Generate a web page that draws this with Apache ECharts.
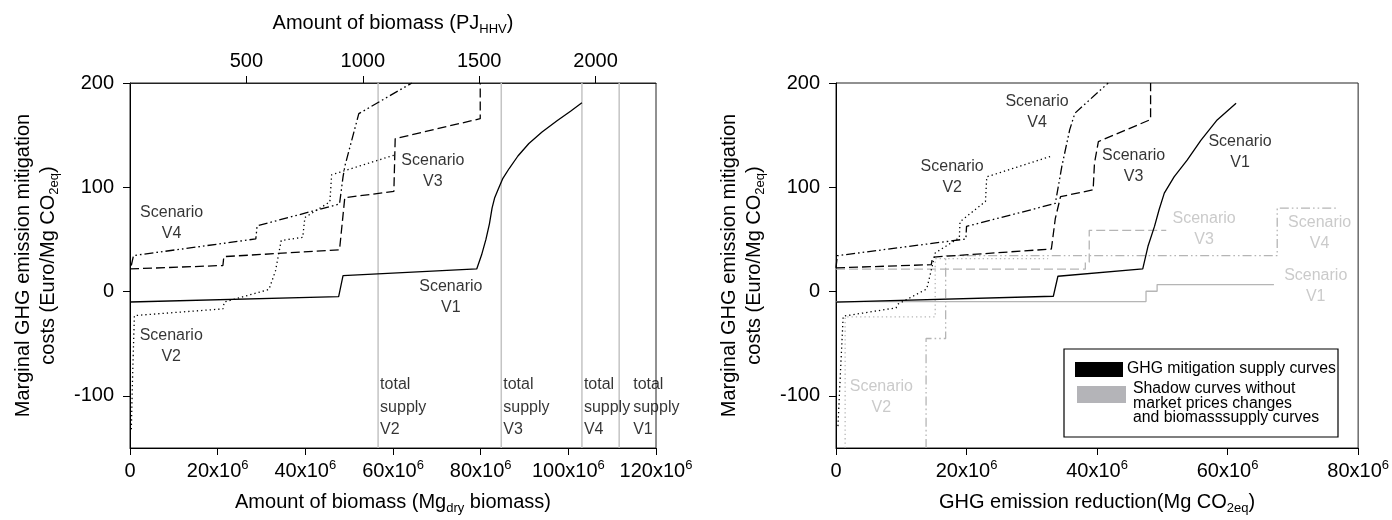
<!DOCTYPE html>
<html>
<head>
<meta charset="utf-8">
<script src="https://cdn.jsdelivr.net/npm/echarts@6/dist/echarts.min.js"></script>
<style>
html,body{margin:0;padding:0;background:#fff;}
#chart{width:1392px;height:520px;}
</style>
</head>
<body>
<div id="chart"></div>
<script>
// ---------------- DATA (x in 10^6 units, y in Euro/Mg CO2eq) ----------------
// Left panel: amount of biomass (10^6 Mg dry) vs marginal cost
const leftV1 = [[0,-10],[47.6,-4.8],[48.6,15.3],[79.1,21.7],[80.2,35],[81.2,50],[82,65],[82.6,80],[83.2,90],[84,98],[85,108],[86.5,118],[88.5,130],[91,142],[94,153],[97.5,164],[100.5,173],[103.1,181]];
const leftV2 = [[0.3,-132],[0.6,-80],[1,-23],[21.2,-16.6],[21.5,-10],[31.7,2],[33.2,20],[34.5,49],[39.4,52],[39.9,71],[45.6,86],[46,112],[60.4,131]];
const leftV3 = [[0,21.7],[21.2,25],[21.4,33.5],[47.8,40],[49,90],[60.2,96],[60.5,146.6],[79.9,165.8],[79.9,200]];
const leftV4 = [[0.3,25],[0.8,34.5],[28.7,50.5],[29,63],[47.8,84],[48.6,110],[49,120],[52.2,170.6],[64.3,200]];
const supplyTotals = [56.6, 84.7, 103.1, 111.6];
const supplyNames = ['V2', 'V3', 'V4', 'V1'];
const hhvGJperMg = 18.83;             // top axis: PJ(HHV) = Mg * 18.83 GJ/Mg
const pjTicks = [500, 1000, 1500, 2000];
const yTicks = [-100, 0, 100, 200];

// Right panel: GHG emission reduction (10^6 Mg CO2eq) vs marginal cost
const rightV1 = [[0,-10.2],[33.3,-4.5],[34.0,14.7],[47,21.7],[47.8,43.4],[48.8,62.5],[49.5,78.5],[50.3,94.4],[51.8,110],[53.8,126],[55.9,145],[58.4,164.6],[61.3,180.6]];
const rightV2 = [[0.3,-129],[0.7,-75],[1.1,-23.6],[9.2,-15.6],[9.5,-12],[13.9,2.5],[14.5,18],[15.2,37],[18.9,51.7],[19.0,67],[22.9,86.4],[23.1,110],[32.8,129.5]];
const rightV3 = [[0,22.7],[14.6,25.8],[14.8,33],[33.0,40.8],[33.6,70],[34.4,91],[39.4,97.6],[39.6,123],[40.2,143.8],[48.2,165],[48.2,200]];
const rightV4 = [[0,22.7],[0.2,34.4],[19.9,50.4],[20.0,62.5],[33.6,84.5],[34.6,120],[35.8,155],[36.6,171],[41.7,200]];
// Shadow curves (without market price changes and biomass supply curves)
const shadowV1 = [[0,-9.6],[47.5,-9.6],[47.5,0.3],[49.2,0.3],[49.2,6.7],[67.1,6.7]];
const shadowV2 = [[1.4,-150],[1.4,-24.2],[15.2,-24.2],[15.2,31.5],[32.5,31.5]];
const shadowV3 = [[0,21.5],[38.2,21.5],[38.2,28],[38.8,28],[38.8,58.7],[50.6,58.7]];
const shadowV4 = [[13.8,-150],[13.8,-45],[16.8,-45],[16.8,34.4],[67.6,34.4],[67.6,80],[76.8,80]];

// ---------------- STYLE ----------------
const FF = "'Liberation Sans', Arial, Helvetica, sans-serif";
const BLACK = '#000';
const GRAY = '#b5b5b5';
const GRAYTXT = '#bdbdbd';
const dash = {
  V1: 'solid',
  V2: [1.3, 3],
  V3: [9, 4],
  V4: [9, 3, 1.6, 3, 1.6, 3]
};

const chart = echarts.init(document.getElementById('chart'), null, {renderer: 'canvas'});

function curve(data, name, color, xi, yi, w) {
  return {
    type: 'line', data: data, xAxisIndex: xi, yAxisIndex: yi,
    symbol: 'none', silent: true, animation: false, z: 3,
    lineStyle: {color: color, width: w || 1.3, type: dash[name]}
  };
}
function note(xi, yi, pos, text, color) {
  return {
    type: 'scatter', xAxisIndex: xi, yAxisIndex: yi, data: [pos],
    symbolSize: 0, silent: true, animation: false, z: 5,
    label: {show: true, position: 'inside', formatter: text, color: color,
      fontFamily: FF, fontSize: 16, lineHeight: 21, align: 'center'}
  };
}

const richBase = {
  b: {fontFamily: FF, fontSize: 20, lineHeight: 25, color: '#000'},
  s: {fontFamily: FF, fontSize: 13, lineHeight: 14, verticalAlign: 'top', color: '#000'},
  d: {fontFamily: FF, fontSize: 13, lineHeight: 14, verticalAlign: 'bottom', color: '#000'}
};
const expFmt = v => v === 0 ? '{b|0}' : '{b|' + v + 'x10}{s|6}';

function xBottom(grid, max, name) {
  return {
    gridIndex: grid, type: 'value', position: 'bottom', min: 0, max: max, interval: 20,
    axisLine: {show: true, onZero: false, lineStyle: {color: '#000', width: 1}},
    axisTick: {show: true, inside: false, length: 7, lineStyle: {color: '#000'}},
    axisLabel: {formatter: expFmt, rich: richBase, margin: 11, hideOverlap: false},
    splitLine: {show: false},
    name: name, nameLocation: 'middle', nameGap: 42,
    nameTextStyle: {rich: richBase}
  };
}
function yAxisDef(grid) {
  return {
    gridIndex: grid, type: 'value', min: -150, max: 200,
    axisLine: {show: true, onZero: false, lineStyle: {color: '#000', width: 1}},
    axisTick: {show: true, inside: false, length: 7, customValues: yTicks, lineStyle: {color: '#000'}},
    axisLabel: {customValues: yTicks, fontFamily: FF, fontSize: 20, color: '#000', margin: 16},
    splitLine: {show: false},
    name: '{b|Marginal GHG emission mitigation}\n{b|costs (Euro/Mg CO}{d|2eq}{b|)}',
    nameLocation: 'middle', nameGap: 69, nameRotate: 90,
    nameTextStyle: {rich: richBase, align: 'center'}
  };
}

const series = [];
// total supply vertical lines (left)
supplyTotals.forEach((v) => {
  series.push({type: 'line', xAxisIndex: 0, yAxisIndex: 0, data: [[v, -150], [v, 200]],
    symbol: 'none', silent: true, animation: false, z: 2,
    lineStyle: {color: '#c4c4c4', width: 1.5}});
});
series.push(curve(leftV1, 'V1', BLACK, 0, 0));
series.push(curve(leftV2, 'V2', BLACK, 0, 0));
series.push(curve(leftV3, 'V3', BLACK, 0, 0));
series.push(curve(leftV4, 'V4', BLACK, 0, 0));
// right: shadow first (under), then black
series.push(curve(shadowV1, 'V1', GRAY, 2, 1));
series.push(curve(shadowV2, 'V2', GRAY, 2, 1));
series.push(curve(shadowV3, 'V3', GRAY, 2, 1));
series.push(curve(shadowV4, 'V4', GRAY, 2, 1));
series.push(curve(rightV1, 'V1', BLACK, 2, 1));
series.push(curve(rightV2, 'V2', BLACK, 2, 1));
series.push(curve(rightV3, 'V3', BLACK, 2, 1));
series.push(curve(rightV4, 'V4', BLACK, 2, 1));

// scenario labels - left
series.push(note(0, 0, [69.1, 115.3], 'Scenario\nV3', '#000'));
series.push(note(0, 0, [9.5, 66], 'Scenario\nV4', '#000'));
series.push(note(0, 0, [73.2, -5.7], 'Scenario\nV1', '#000'));
series.push(note(0, 0, [9.4, -52.6], 'Scenario\nV2', '#000'));
// total supply labels
supplyTotals.forEach((v, i) => {
  const s = note(0, 0, [v, -111], 'total\nsupply\n' + supplyNames[i], '#000');
  s.label.position = 'right';
  s.label.align = 'left';
  s.label.lineHeight = 22.5;
  s.label.distance = supplyNames[i] === 'V1' ? 14 : 2;
  series.push(s);
});
// scenario labels - right
series.push(note(2, 1, [30.8, 171.8], 'Scenario\nV4', '#000'));
series.push(note(2, 1, [17.8, 109.6], 'Scenario\nV2', '#000'));
series.push(note(2, 1, [45.6, 120.3], 'Scenario\nV3', '#000'));
series.push(note(2, 1, [61.9, 133.5], 'Scenario\nV1', '#000'));
series.push(note(2, 1, [56.4, 60.3], 'Scenario\nV3', GRAYTXT));
series.push(note(2, 1, [74.1, 56.5], 'Scenario\nV4', GRAYTXT));
series.push(note(2, 1, [73.5, 4.8], 'Scenario\nV1', GRAYTXT));
series.push(note(2, 1, [6.95, -101], 'Scenario\nV2', GRAYTXT));

const option = {
  backgroundColor: '#fff',
  animation: false,
  grid: [
    {left: 130, top: 83, width: 526, height: 365, show: true, borderColor: '#222', borderWidth: 1, backgroundColor: 'transparent', containLabel: false},
    {left: 836, top: 83, width: 526, height: 365, show: true, borderColor: '#222', borderWidth: 1, backgroundColor: 'transparent', containLabel: false}
  ],
  xAxis: [
    xBottom(0, 120, '{b|Amount of biomass (Mg}{d|dry}{b| biomass)}'),
    {
      gridIndex: 0, type: 'value', position: 'top', min: 0, max: 120 * hhvGJperMg,
      axisLine: {show: true, onZero: false, lineStyle: {color: '#222', width: 1}},
      axisTick: {show: true, inside: false, length: 7, customValues: pjTicks, lineStyle: {color: '#000'}},
      axisLabel: {customValues: pjTicks, formatter: v => String(v), fontFamily: FF, fontSize: 20, color: '#000', margin: 12},
      splitLine: {show: false},
      name: '{b|Amount of biomass (PJ}{d|HHV}{b|)}', nameLocation: 'middle', nameGap: 47,
      nameTextStyle: {rich: richBase}
    },
    xBottom(1, 80, '{b|GHG emission reduction(Mg CO}{d|2eq}{b|)}')
  ],
  yAxis: [yAxisDef(0), yAxisDef(1)],
  series: series,
  graphic: [
    {type: 'rect', shape: {x: 1064, y: 349, width: 274, height: 88}, style: {fill: '#fff', stroke: '#000', lineWidth: 1.2}, z: 10},
    {type: 'rect', shape: {x: 1075, y: 362, width: 48, height: 15}, style: {fill: '#000'}, z: 11},
    {type: 'rect', shape: {x: 1077, y: 386, width: 49, height: 17}, style: {fill: '#b4b4b8'}, z: 11},
    {type: 'text', x: 1127, y: 369, style: {text: 'GHG mitigation supply curves', font: '15.8px ' + FF, fill: '#000', verticalAlign: 'middle', align: 'left'}, z: 11},
    {type: 'text', x: 1133, y: 403.5, style: {text: 'Shadow curves without\nmarket prices changes\nand biomasssupply curves', font: '15.8px ' + FF, fill: '#000', verticalAlign: 'middle', align: 'left', lineHeight: 14.5}, z: 11}
  ]
};
chart.setOption(option);
</script>
</body>
</html>
